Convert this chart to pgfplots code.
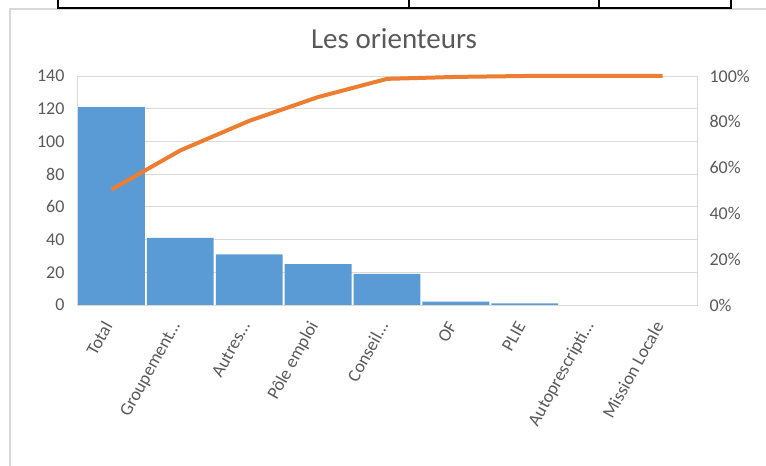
\documentclass[border=0pt]{standalone}
\usepackage{pgfplots}
\pgfplotsset{compat=1.18}
\usepackage{fontspec}
\setmainfont{Carlito}
\definecolor{txtgray}{HTML}{595959}
\definecolor{gridgray}{HTML}{D9D9D9}
\definecolor{barblue}{HTML}{5B9BD5}
\definecolor{lineorange}{HTML}{ED7D31}
\begin{document}
\begin{tikzpicture}[x=1pt,y=1pt]
\path[use as bounding box] (0,0) rectangle (766,466);
\draw[gridgray, line width=1.2pt] (10,457) rectangle (800,-30);
\draw[black, line width=1.5pt] (58,470) -- (58,458) -- (731,458) -- (731,470);
\draw[black, line width=1.5pt] (409,458) -- (409,470);
\draw[black, line width=1.5pt] (599,458) -- (599,470);
\node[anchor=base, text=txtgray, font=\fontsize{29}{34}\selectfont] at (394,417.5) {Les orienteurs};
\begin{axis}[
  at={(77pt,161pt)}, anchor=south west, scale only axis,
  width=620pt, height=229pt,
  xmin=-0.5, xmax=8.5, ymin=0, ymax=140,
  xtick={0,...,8},
  xticklabels={Total,Groupement…,Autres…,Pôle emploi,Conseil…,OF,PLIE,Autoprescripti…,Mission Locale},
  ytick={0,20,...,140},
  ymajorgrids, grid style={gridgray, line width=0.8pt},
  axis line style={gridgray, line width=0.8pt},
  major tick length=0pt,
  tick label style={font=\fontsize{18}{21}\selectfont, text=txtgray},
  xticklabel style={xshift=-2pt, yshift=-15pt, rotate=61, anchor=east},
  yticklabel style={xshift=-9pt},
  /pgf/number format/assume math mode=true,
]
% values 0 for Autoprescripti... and Mission Locale (no visible bar)
\addplot[ybar, bar width=0.97, fill=barblue, draw=none] coordinates {
  (0,121) (1,41) (2,31) (3,25) (4,19) (5,2) (6,1)
};
\end{axis}
\begin{axis}[
  at={(77pt,161pt)}, anchor=south west, scale only axis,
  width=620pt, height=229pt,
  xmin=-0.5, xmax=8.5, ymin=0, ymax=100,
  hide x axis, axis y line*=right, axis line style={draw=none},
  major tick length=0pt,
  ytick={0,20,...,100},
  yticklabels={0\%,20\%,40\%,60\%,80\%,100\%},
  tick label style={font=\fontsize{18}{21}\selectfont, text=txtgray},
  yticklabel style={xshift=9pt},
  clip=false,
]
\addplot[color=lineorange, line width=4pt] coordinates {
  (0,50.4) (1,67.5) (2,80.4) (3,90.8) (4,98.75) (5,99.6) (6,100) (7,100) (8,100)
};
\end{axis}
\end{tikzpicture}
\end{document}
